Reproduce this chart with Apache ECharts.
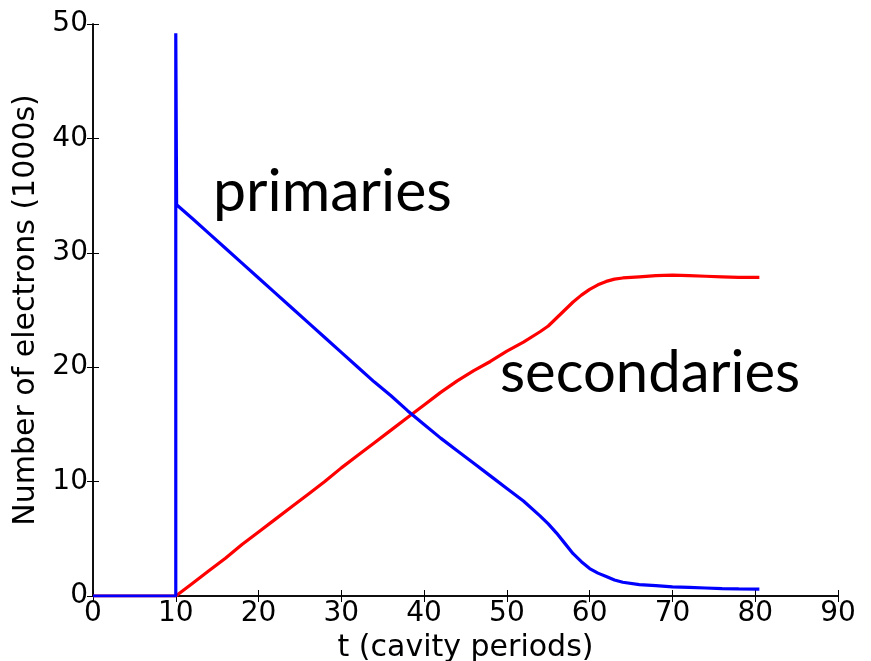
<!DOCTYPE html>
<html>
<head>
<meta charset="utf-8">
<script src="https://cdn.jsdelivr.net/npm/echarts@6/dist/echarts.min.js"></script>
<style>
html,body{margin:0;padding:0;background:#fff;}
#main{width:871px;height:661px;}
</style>
</head>
<body>
<div id="main"></div>
<script>
// Primaries (blue)
const primT = [0,10,10,10.1,12,14,16,18,20,22,24,26,28,30,32,34,36,38,40,42,44,46,48,50,52,54,55,56,57,58,59,60,61,62,63,64,66,68,70,72,74,76,78,80.5];
const primY = [0,0,49.2,34.2,33.0,31.7,30.4,29.1,27.8,26.5,25.2,23.9,22.6,21.3,20.0,18.7,17.5,16.2,15.0,13.8,12.7,11.6,10.5,9.4,8.3,7.0,6.3,5.5,4.6,3.7,3.0,2.4,2.0,1.7,1.4,1.2,1.0,0.9,0.8,0.75,0.7,0.65,0.62,0.6];
// Secondaries (red)
const secT = [0,10,12,14,16,18,20,22,24,26,28,30,32,34,36,38,40,42,44,46,48,50,52,54,55,56,57,58,59,60,61,62,63,64,66,68,70,72,74,76,78,80.5];
const secY = [0,0,1.1,2.2,3.3,4.5,5.6,6.7,7.8,8.9,10.0,11.2,12.3,13.4,14.5,15.6,16.7,17.8,18.8,19.7,20.5,21.4,22.2,23.1,23.6,24.3,25.0,25.7,26.3,26.8,27.2,27.5,27.7,27.8,27.9,28.0,28.05,28.0,27.95,27.9,27.85,27.85];
const xTitle = 't (cavity periods)';
const yTitle = 'Number of electrons (1000s)';
const labelPrim = 'primaries';
const labelSec = 'secondaries';

const pairs = (a, b) => a.map((v, i) => [v, b[i]]);
const tickFont = 'DejaVu Sans';
const chart = echarts.init(document.getElementById('main'), null, {renderer: 'canvas'});
const axisCommon = {
  min: 0, interval: 10,
  axisLine: {show: true, lineStyle: {color: '#000', width: 1.5}},
  axisTick: {show: true, inside: true, length: 6, lineStyle: {color: '#000', width: 1}},
  splitLine: {show: false}
};
chart.setOption({
  animation: false,
  backgroundColor: '#fff',
  grid: {left: 93, right: 33, top: 24, bottom: 65, containLabel: false, outerBoundsMode: 'none'},
  xAxis: [
    Object.assign({}, axisCommon, {
      type: 'value', max: 90, position: 'bottom',
      name: xTitle, nameLocation: 'middle', nameGap: 28,
      nameTextStyle: {fontFamily: tickFont, fontSize: 30, color: '#000'},
      axisLabel: {fontFamily: tickFont, fontSize: 28, color: '#000', margin: 4}
    }),
    Object.assign({}, axisCommon, {
      type: 'value', max: 90, position: 'top', axisLabel: {show: false}
    })
  ],
  yAxis: [
    Object.assign({}, axisCommon, {
      type: 'value', max: 50, position: 'left',
      name: yTitle, nameLocation: 'middle', nameGap: 48,
      nameTextStyle: {fontFamily: tickFont, fontSize: 30, color: '#000'},
      axisLabel: {fontFamily: tickFont, fontSize: 28, color: '#000', margin: 5}
    }),
    Object.assign({}, axisCommon, {
      type: 'value', max: 50, position: 'right', axisLabel: {show: false}
    })
  ],
  series: [
    {type: 'line', data: pairs(secT, secY), showSymbol: false, symbol: 'none',
     lineStyle: {color: '#ff0000', width: 3.2}, itemStyle: {color: '#ff0000'}, z: 2},
    {type: 'line', data: pairs(primT, primY), showSymbol: false, symbol: 'none',
     lineStyle: {color: '#0000ff', width: 3.2}, itemStyle: {color: '#0000ff'}, z: 3}
  ],
  graphic: [
    {type: 'text', left: 213, top: 162,
     style: {text: labelPrim, font: '59px Lato', fill: '#000'}},
    {type: 'text', left: 500, top: 344,
     style: {text: labelSec, font: '58px Lato', fill: '#000'}}
  ]
});
</script>
</body>
</html>
